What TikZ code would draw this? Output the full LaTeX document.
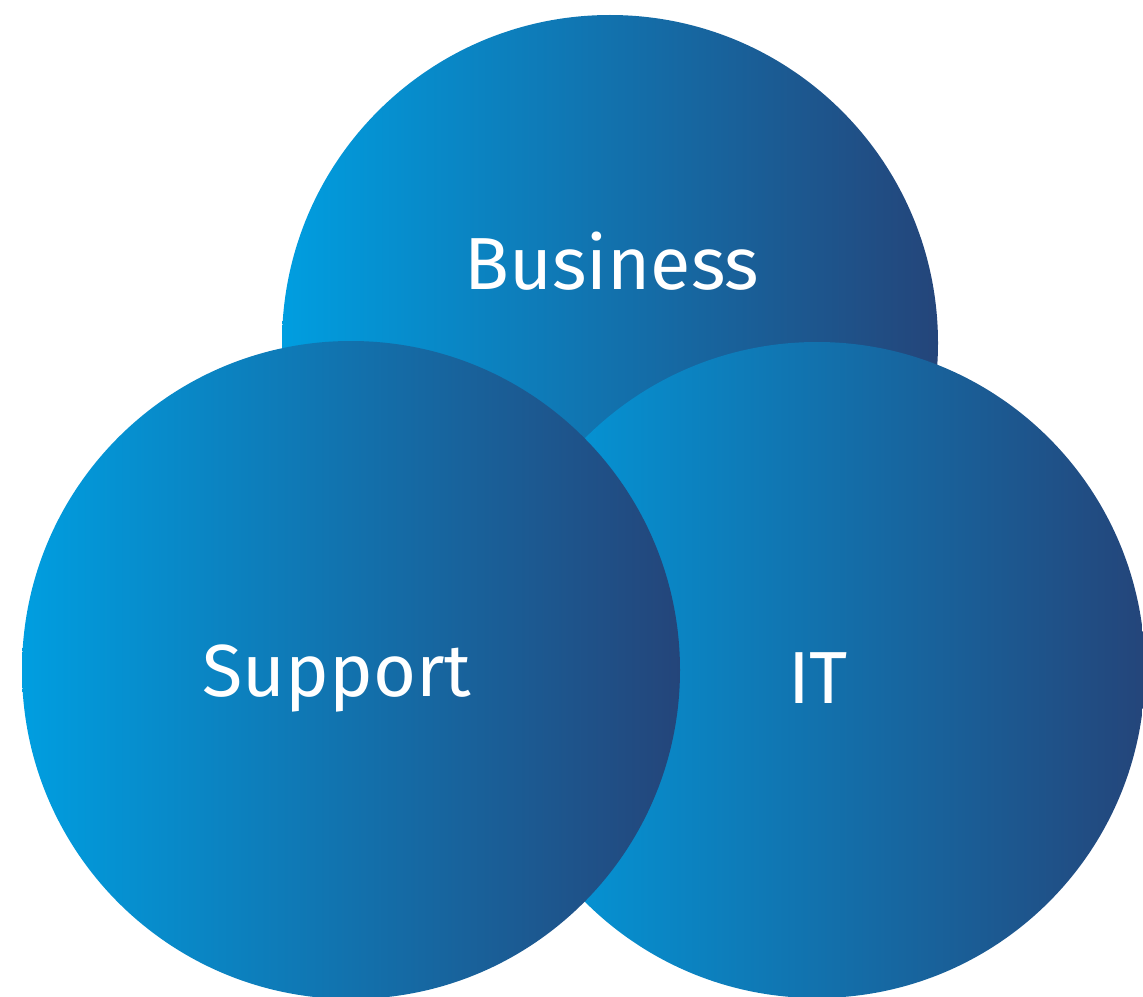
\documentclass[tikz,border=0pt]{standalone}
\usepackage{fontspec}
\setmainfont{Fira Sans}
\definecolor{venlight}{HTML}{009EE0}
\definecolor{vendark}{HTML}{24457A}
\begin{document}
\begin{tikzpicture}[x=0.02cm,y=-0.02cm,
        ring/.style={left color=venlight,right color=vendark},
        label/.style={text=white,font=\fontsize{42}{48}\selectfont}]
\useasboundingbox (0,0) rectangle (1143,997);
\begin{scope}
\clip (0,0) rectangle (1143,997);
\shade[ring] (610,343) circle (328);
\shade[ring] (817,670) circle (328);
\shade[ring] (351,670) circle (329);
\end{scope}

\node[label] (business) at (612,261) {Business};
\node[label] (support) at (337,678) {Support};
\node[label] (it) at (818,678) {IT};
\end{tikzpicture}
\end{document}
